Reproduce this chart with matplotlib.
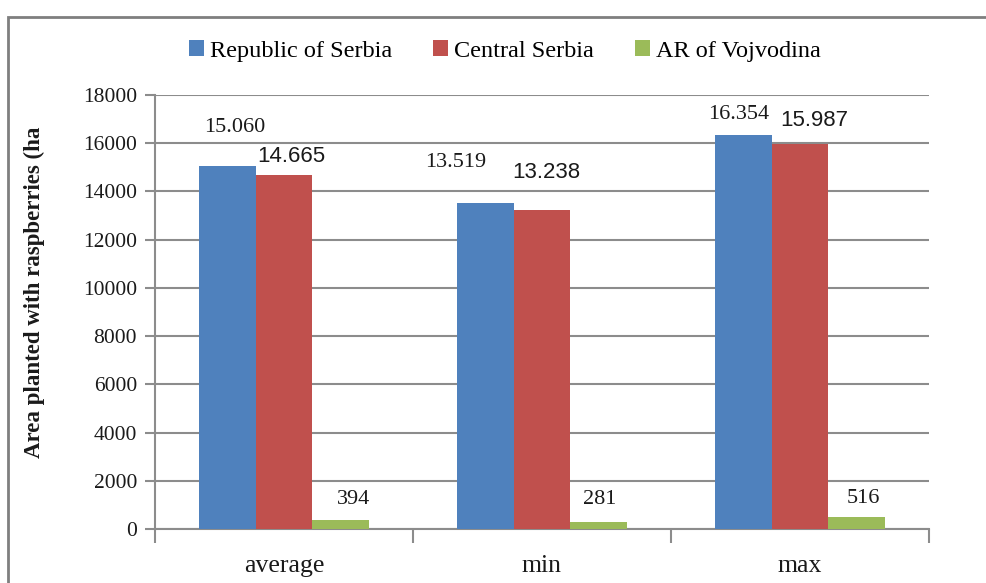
import matplotlib
matplotlib.use("Agg")
import matplotlib.pyplot as plt
from matplotlib.patches import Rectangle
import numpy as np

categories = ["average", "min", "max"]
series_names = ["Republic of Serbia", "Central Serbia", "AR of Vojvodina"]
serbia = [15060, 13519, 16354]
central = [14665, 13238, 15987]
vojvodina = [394, 281, 516]
label_serbia = ["15.060", "13.519", "16.354"]
label_central = ["14.665", "13.238", "15.987"]
label_vojv = ["394", "281", "516"]
yticks = [0, 2000, 4000, 6000, 8000, 10000, 12000, 14000, 16000, 18000]

colors = ["#4F81BD", "#C0504D", "#9BBB59"]
grid_c = "#8C8C8C"

W, H = 986, 583
fig = plt.figure(figsize=(W / 100, H / 100), dpi=100)
fig.patch.set_facecolor("white")
ax = fig.add_axes([155 / W, (H - 529) / H, 774 / W, 434 / H])

x = np.arange(len(categories))
bw = 0.22
all_vals = [serbia, central, vojvodina]
all_labels = [label_serbia, label_central, label_vojv]
# label centre offsets in pixels (dx, dy from bar top centre)
offsets = [
    [(7, 38), (-30, 41), (-5, 20)],
    [(7, 19), (4, 37), (14, 23)],
    [(13, 20), (1, 23), (7, 18)],
]
label_fonts = [
    dict(family="Liberation Serif", size=16),
    dict(family="Liberation Sans", size=16),
    dict(family="Liberation Serif", size=16),
]
for i, (vals, labs) in enumerate(zip(all_vals, all_labels)):
    pos = x + (i - 1) * bw
    ax.bar(pos, vals, width=bw, color=colors[i], label=series_names[i], zorder=3)
    for j, (p, v, t) in enumerate(zip(pos, vals, labs)):
        dx, dy = offsets[i][j]
        ax.annotate(t, (p, v), xytext=(dx * 0.72, dy * 0.72), textcoords="offset points",
                    ha="center", va="center", color="#1a1a1a", **label_fonts[i])

ax.set_xlim(-0.5, 2.5)
ax.set_ylim(0, 18000)
ax.set_yticks(yticks)
ax.set_yticklabels([str(v) for v in yticks], family="Liberation Serif", fontsize=15.5, color="#1a1a1a")
ax.yaxis.grid(True, color=grid_c, linewidth=1.5, zorder=0)
ax.set_axisbelow(True)

ax.set_xticks([-0.5, 0.5, 1.5, 2.5])
ax.set_xticklabels([])
ax.set_xticks(x, minor=True)
ax.set_xticklabels(categories, minor=True, family="Liberation Serif", fontsize=18.5, color="#1a1a1a")
ax.tick_params(axis="x", which="major", length=10, width=1.5, color=grid_c, direction="out")
ax.tick_params(axis="x", which="minor", length=0, pad=19)
ax.tick_params(axis="y", length=7, width=1.5, color=grid_c, direction="out", pad=6)

for s in ["top", "right"]:
    ax.spines[s].set_visible(False)
for s in ["left", "bottom"]:
    ax.spines[s].set_color(grid_c)
    ax.spines[s].set_linewidth(1.5)

ax.set_ylabel("Area planted with raspberries (ha", family="Liberation Serif",
              fontweight="bold", fontsize=16.5, color="#1a1a1a")
ax.yaxis.set_label_coords((45 - 155) / 774, (529 - 292) / 434)

fig.legend(loc="center", bbox_to_anchor=(505 / W, 1 - 51 / H), ncol=3, frameon=False,
           prop=dict(family="Liberation Serif", size=17.5), handlelength=0.6,
           handleheight=0.6, handletextpad=0.25, columnspacing=1.7)

fig.patches.append(Rectangle((8 / W, -0.05), 1.1, 1 - 17 / H + 0.05, transform=fig.transFigure,
                             fill=False, edgecolor="#7F7F7F", linewidth=2))

fig.savefig("out.png", dpi=100)
